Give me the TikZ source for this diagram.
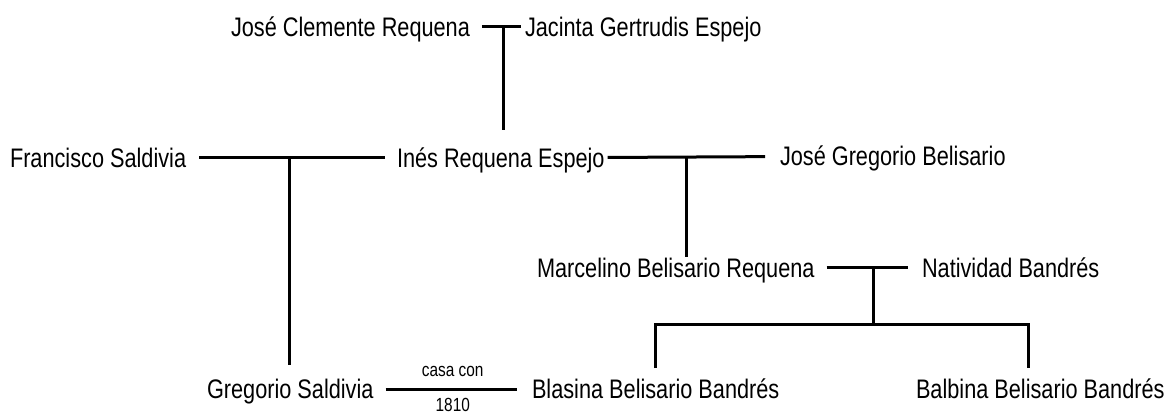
\documentclass[tikz,border=0pt]{standalone}
\usepackage{fontspec}
\setmainfont{Liberation Sans}[FakeStretch=0.81]
\begin{document}
\begin{tikzpicture}[
        x=1pt, y=-1pt,
        line width=3pt,
        every node/.style = {anchor=west, inner sep=0pt, outer sep=0pt, text height=19pt, text depth=0pt, font=\fontsize{26.8}{30}\selectfont},
        note/.style = {anchor=center, text height=13pt, font=\fontsize{19}{22}\selectfont}
    ]
    \useasboundingbox (0,0) rectangle (1166,419);

    \node (jcr) at (231,27) {José Clemente Requena};
    \node (jge) at (525,27) {Jacinta Gertrudis Espejo};
    \node (fs)  at (10,158) {Francisco Saldivia};
    \node (ire) at (397,158) {Inés Requena Espejo};
    \node (jgb) at (780,156) {José Gregorio Belisario};
    \node (mbr) at (537,268) {Marcelino Belisario Requena};
    \node (nb)  at (922,268) {Natividad Bandrés};
    \node (gs)  at (207,389) {Gregorio Saldivia};
    \node (bbb) at (532,389) {Blasina Belisario Bandrés};
    \node (bab) at (916,389) {Balbina Belisario Bandrés};

    \coordinate (u1) at (503,27);
    \coordinate (u2) at (289,158);
    \coordinate (u3) at (686,156);
    \coordinate (u4) at (873,268);
    \coordinate (kids) at (873,324);
    \coordinate (d1) at (655,368);
    \coordinate (d2) at (1028,368);

    \draw[shorten <=12pt, shorten >=4pt] (jcr) -- (jge);
    \draw[shorten <=13pt, shorten >=12pt] (fs) -- (ire);
    \draw[shorten <=3pt, shorten >=15pt] (ire) -- (jgb);
    \draw[shorten <=12pt, shorten >=14pt] (mbr) -- (nb);
    \draw[shorten <=12pt, shorten >=15pt] (gs) -- (bbb)
        node[note, midway, above=13pt] {casa con}
        node[note, midway, below=9pt] {1810};

    \draw[shorten >=18pt] (u1) -- (u1 |- ire.north);
    \draw[shorten >=15pt] (u2) -- (gs.north -| u2);
    \draw[shorten >=1pt] (u3) -- (mbr.north -| u3);
    \draw (u4) -- (kids);
    \draw (d1) |- (kids) -| (d2);
\end{tikzpicture}
\end{document}
